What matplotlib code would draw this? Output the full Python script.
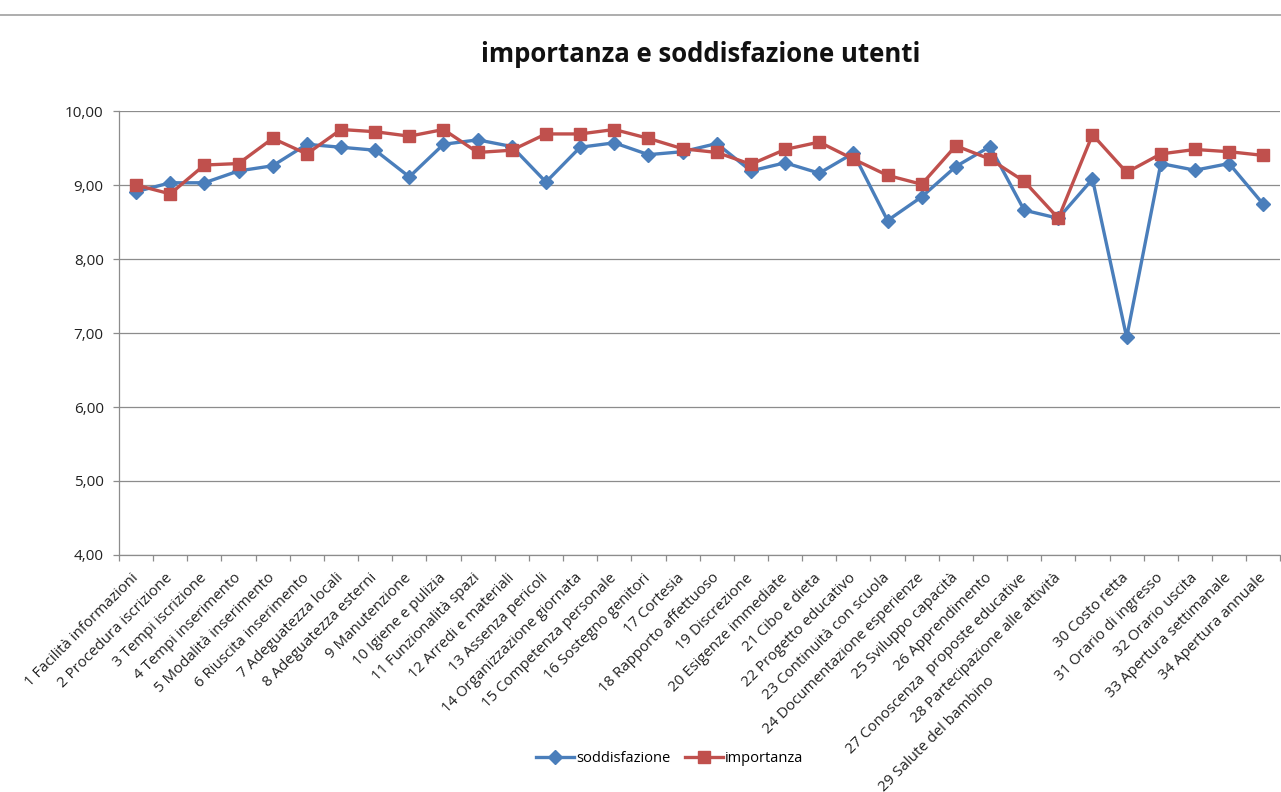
import matplotlib
matplotlib.use("Agg")
import matplotlib.pyplot as plt
import matplotlib.transforms as mtransforms
from matplotlib.lines import Line2D

categorie = [
    "1 Facilità informazioni", "2 Procedura iscrizione", "3 Tempi iscrizione",
    "4 Tempi inserimento", "5 Modalità inserimento", "6 Riuscita inserimento",
    "7 Adeguatezza locali", "8 Adeguatezza esterni", "9 Manutenzione",
    "10 Igiene e pulizia", "11 Funzionalità spazi", "12 Arredi e materiali",
    "13 Assenza pericoli", "14 Organizzazione giornata", "15 Competenza personale",
    "16 Sostegno genitori", "17 Cortesia", "18 Rapporto affettuoso",
    "19 Discrezione", "20 Esigenze immediate", "21 Cibo e dieta",
    "22 Progetto educativo", "23 Continuità con scuola", "24 Documentazione esperienze",
    "25 Sviluppo capacità", "26 Apprendimento", "27 Conoscenza  proposte educative",
    "28 Partecipazione alle attività", "29 Salute del bambino", "30 Costo retta",
    "31 Orario di ingresso", "32 Orario uscita", "33 Apertura settimanale",
    "34 Apertura annuale",
]

soddisfazione = [8.91, 9.03, 9.03, 9.19, 9.26, 9.55, 9.51, 9.47, 9.11, 9.55,
                 9.61, 9.52, 9.04, 9.51, 9.57, 9.41, 9.45, 9.56, 9.19, 9.30,
                 9.16, 9.43, 8.52, 8.84, 9.25, 9.52, 8.66, 8.55, 9.08, 6.94,
                 9.29, 9.20, 9.29, 8.74]

importanza = [9.00, 8.88, 9.27, 9.29, 9.63, 9.42, 9.75, 9.72, 9.66, 9.75,
              9.44, 9.47, 9.69, 9.69, 9.75, 9.63, 9.49, 9.44, 9.28, 9.48,
              9.58, 9.35, 9.13, 9.01, 9.53, 9.35, 9.05, 8.55, 9.68, 9.17,
              9.42, 9.48, 9.45, 9.40]

blu = "#4a7ebb"
rosso = "#c0504d"
grigio = "#8c8c8c"

fig = plt.figure(figsize=(12.81, 7.92), dpi=100)
ax = fig.add_axes([119 / 1281, 1 - 555 / 792, 1 - 119 / 1281 - 0.0005, (555 - 111) / 792])

x = list(range(1, len(categorie) + 1))
ax.plot(x, soddisfazione, color=blu, lw=2.4, marker="D", ms=7, label="soddisfazione", zorder=3)
ax.plot(x, importanza, color=rosso, lw=2.4, marker="s", ms=8, label="importanza", zorder=4)

ax.set_xlim(0.5, len(categorie) + 0.5)
ax.set_ylim(4, 10)
ax.set_yticks(range(4, 11))
ax.set_yticklabels([f"{v},00" for v in range(4, 11)], fontsize=11, family="Open Sans", color="#222222")
ax.yaxis.grid(True, color=grigio, lw=0.9)
ax.set_axisbelow(True)

ax.set_xticks(x)
ax.set_xticklabels(categorie, rotation=45, ha="right", va="center", rotation_mode="anchor",
                   fontsize=10.8, family="Open Sans", color="#222222")
ax.set_xticks([v + 0.5 for v in range(0, len(categorie) + 1)], minor=True)
ax.tick_params(axis="x", which="major", length=0, pad=15)
ax.tick_params(axis="x", which="minor", length=4, color=grigio, width=0.9, direction="out")
ax.tick_params(axis="y", length=4, color=grigio, width=0.9, pad=7)

for side in ["top", "right"]:
    ax.spines[side].set_visible(False)
for side in ["left", "bottom"]:
    ax.spines[side].set_color(grigio)
    ax.spines[side].set_linewidth(0.9)

# l'etichetta 29 nell'originale e' spostata in basso lungo la diagonale
lbl = ax.get_xticklabels()[28]
lbl.set_transform(lbl.get_transform() + mtransforms.ScaledTranslation(-1.0, -1.03, fig.dpi_scale_trans))

fig.text(701 / 1281, 1 - 55 / 792, "importanza e soddisfazione utenti", ha="center", va="center",
         fontsize=18.5, fontweight="bold", family="Open Sans", color="#111111")

fig.legend(loc="center", bbox_to_anchor=(670 / 1281, 1 - 759 / 792), ncol=2, frameon=False,
           prop={"family": "Open Sans", "size": 10.5}, handlelength=2.6, handletextpad=0.15,
           columnspacing=1.0)

fig.add_artist(Line2D([0, 1], [1 - 15 / 792, 1 - 15 / 792], color="#a0a0a0", lw=1.2))

fig.savefig("out.png", dpi=100)
